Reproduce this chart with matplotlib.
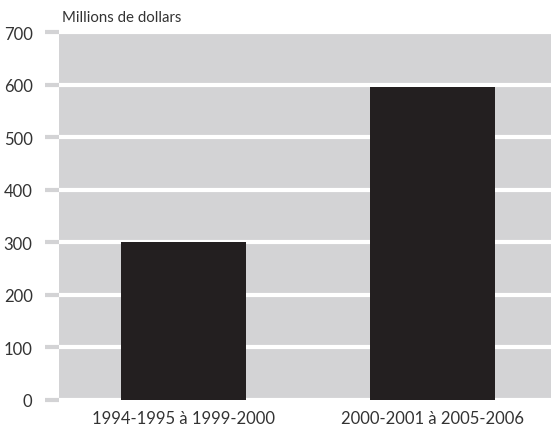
import matplotlib
matplotlib.use("Agg")
import matplotlib.pyplot as plt

categories = ["1994-1995 à 1999-2000", "2000-2001 à 2005-2006"]
values = [300, 596]
yticks = [0, 100, 200, 300, 400, 500, 600, 700]

plt.rcParams['font.family'] = ['Lato', 'DejaVu Sans']

fig = plt.figure(figsize=(5.51, 4.31), dpi=100)
ax = fig.add_axes([59/551, 1 - 401/431, 1 - 59/551, (401 - 33)/431])
ax.set_facecolor('#d3d3d5')

x = range(len(categories))
ax.bar(x, values, width=0.5, color='#231f20', zorder=3)

ax.set_ylim(0, 700)
ax.set_xlim(-0.5, 1.476)
ax.set_yticks(yticks)
ax.set_yticklabels([str(v) for v in yticks], fontsize=12, color='#333333')
ax.set_xticks(list(x))
ax.set_xticklabels(categories, fontsize=12, color='#333333')
ax.yaxis.grid(True, color='white', linewidth=3, zorder=1)
ax.set_axisbelow(True)
for s in ax.spines.values():
    s.set_visible(False)
ax.tick_params(axis='y', length=10, width=3, color='#d3d3d5', pad=9)
ax.tick_params(axis='x', length=0, pad=7)

fig.text(62/551, 1 - 18/431, "Millions de dollars", fontsize=10.8, color='#333333', va='center')

fig.savefig("out.png", dpi=100)
